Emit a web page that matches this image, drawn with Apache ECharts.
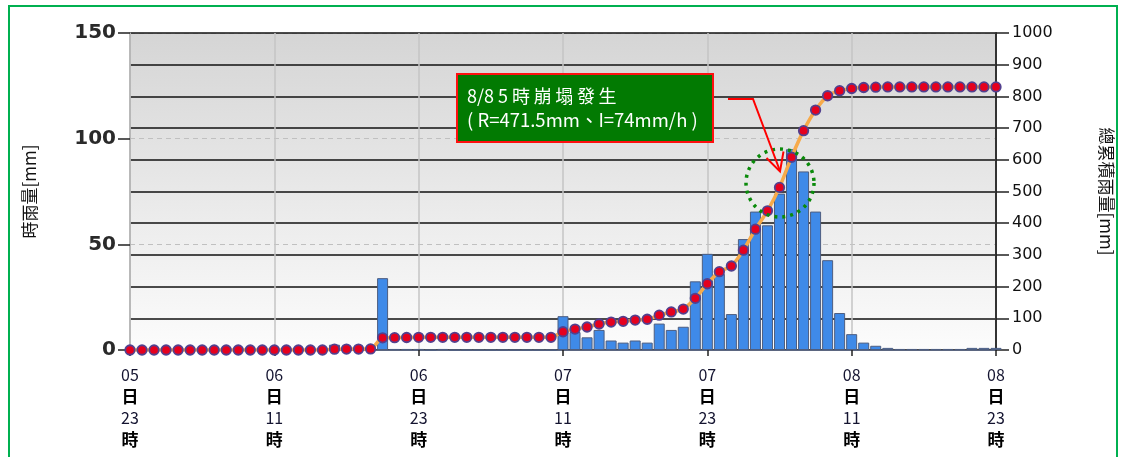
<!DOCTYPE html>
<html>
<head>
<meta charset="utf-8">
<script src="https://cdn.jsdelivr.net/npm/echarts@6/dist/echarts.min.js"></script>
<style>
html,body{margin:0;padding:0;background:#fff;}
#c{width:1123px;height:457px;}
</style>
</head>
<body>
<div id="c"></div>
<script>
// hourly rainfall (mm), hour index 0 = 05日23時 ... 72 = 08日23時
const hourly = [
  0,0,0,0,0,0,0,0,0,0,0,0,0,0,0,0,0,2.5,0.5,0,0.5,
  34,0.5,0.5,0.5,0,0.5,0,0,0,0,0,0,0,0,0,
  16,8.5,6,9.5,4.5,3.5,4.5,3.5,12.5,9.5,11,32.5,
  45.5,36,17,52.5,65.5,59,74,95,84.5,65.5,42.5,17.5,
  7.5,3.5,2,1,0.5,0.5,0.5,0.5,0.5,0.5,1,1,1
];
// cumulative rainfall (mm)
const cumulative = [
  0,0,0,0,0,0,0,0,0,0,0,0,0,0,0,0,0,2.5,3,3,3.5,
  38.5,39,39.5,40,40,40,40,40,40,40,40,40,40,40,40,
  57.5,66,72.5,82,88,90.5,94.5,97,110,120,129,163,
  209,247,265,315,381,439,513,608,692,757,802,818,
  825,828,829,830,830,830,830,830,830,830,830,830,830
];
const dayLabels  = ['05','06','06','07','07','08','08'];
const hourLabels = ['23','11','23','11','23','11','23'];
const leftTicks = [0,50,100,150];
const rightTicks = [0,100,200,300,400,500,600,700,800,900,1000];

const barData = hourly.map((v,i)=>[i,v]);
const lineData = cumulative.map((v,i)=>[i,v]);

const chart = echarts.init(document.getElementById('c'));
const numFont = 'DejaVu Sans';
const cjk = 'Noto Sans CJK TC';

chart.setOption({
  animation:false,
  backgroundColor:'#fff',
  grid:{left:130,right:119,top:33,bottom:107,show:true,borderWidth:0,
    backgroundColor:new echarts.graphic.LinearGradient(0,0,0,1,[
      {offset:0,color:'#d5d5d5'},{offset:1,color:'#fcfcfc'}])},
  xAxis:{
    type:'value',min:0,max:72,interval:12,
    axisLine:{show:true,onZero:false,lineStyle:{color:'#5b6680',width:1}},
    axisTick:{show:true,length:6,lineStyle:{color:'#222',width:1.5}},
    splitLine:{show:true,lineStyle:{color:'#c4c4c4',width:1.5}},
    axisLabel:{
      margin:14,
      formatter:function(v){const i=Math.round(v/12);
        return '{n|'+dayLabels[i]+'}\n{b|日}\n{n|'+hourLabels[i]+'}\n{b|時}';},
      rich:{
        n:{fontFamily:cjk,fontSize:16,color:'#141430',lineHeight:21.5},
        b:{fontFamily:cjk,fontSize:17,fontWeight:'bold',color:'#000',lineHeight:21.5}
      }
    }
  },
  yAxis:[
    {type:'value',min:0,max:150,interval:50,position:'left',
     name:'時雨量[mm]',nameLocation:'middle',nameGap:92,nameRotate:90,
     nameTextStyle:{fontFamily:cjk,fontSize:17,color:'#111'},
     axisLine:{show:true,lineStyle:{color:'#b0b0b0',width:1.5}},
     axisTick:{show:true,length:12,lineStyle:{color:'#222',width:1.5}},
     axisLabel:{margin:14,fontFamily:numFont,fontSize:20,fontWeight:'bold',color:'#2a2a2a',
       formatter:function(v){return leftTicks.indexOf(v)>=0?String(v):'';}},
     splitLine:{show:true,lineStyle:{color:'#c0c0c0',type:[5,4],width:1}}
    },
    {type:'value',min:0,max:1000,interval:100,position:'right',
     name:'總累積雨量[mm]',nameLocation:'middle',nameGap:102,nameRotate:-90,
     nameTextStyle:{fontFamily:cjk,fontSize:17,color:'#111'},
     axisLine:{show:true,lineStyle:{color:'#333',width:2}},
     axisTick:{show:true,length:13,lineStyle:{color:'#222',width:1.5}},
     axisLabel:{margin:16,fontFamily:numFont,fontSize:16,color:'#111',
       formatter:function(v){return rightTicks.indexOf(v)>=0?String(v):'';}},
     splitLine:{show:true,lineStyle:{color:'#111',width:1.5}}
    }
  ],
  series:[
    {type:'bar',name:'時雨量',data:barData,yAxisIndex:0,barWidth:11,
     itemStyle:{color:'#3f8ae8',borderColor:'#4e5e80',borderWidth:1},z:2},
    {type:'line',name:'總累積雨量',data:lineData,yAxisIndex:1,smooth:0.25,
     lineStyle:{color:'#f7aa4a',width:3.5},
     symbol:'circle',symbolSize:9.5,
     itemStyle:{color:'#e5001e',borderColor:'#52408e',borderWidth:1.8},z:3}
  ],
  graphic:[
    {type:'rect',shape:{x:9,y:6,width:1108,height:470},
     style:{fill:'none',stroke:'#00b050',lineWidth:2},silent:true},
    {type:'circle',shape:{cx:780,cy:183,r:34},
     style:{fill:'none',stroke:'#0a8a0a',lineWidth:3.5,lineDash:[3,5]},z:10},
    {type:'polyline',shape:{points:[[728,99],[753,99],[780,171]]},
     style:{stroke:'#ff0000',lineWidth:2,fill:'none'},z:10},
    {type:'polyline',shape:{points:[[766.5,158],[780,171.5],[783.5,151.5]]},
     style:{stroke:'#ff0000',lineWidth:2,fill:'none'},z:10},
    {type:'rect',shape:{x:457,y:74,width:256,height:68},
     style:{fill:'#027a02',stroke:'#ff1010',lineWidth:2},z:10},
    {type:'text',x:467,y:85,
     style:{text:'8/8 5 時\u2009崩\u2009塌\u2009發\u2009生',fill:'#fff',fontFamily:cjk,fontSize:18,lineHeight:22},z:11},
    {type:'text',x:467,y:109,
     style:{text:'( R=471.5mm、I=74mm/h )',fill:'#fff',fontFamily:cjk,fontSize:18.5,lineHeight:22},z:11}
  ]
});
</script>
</body>
</html>
